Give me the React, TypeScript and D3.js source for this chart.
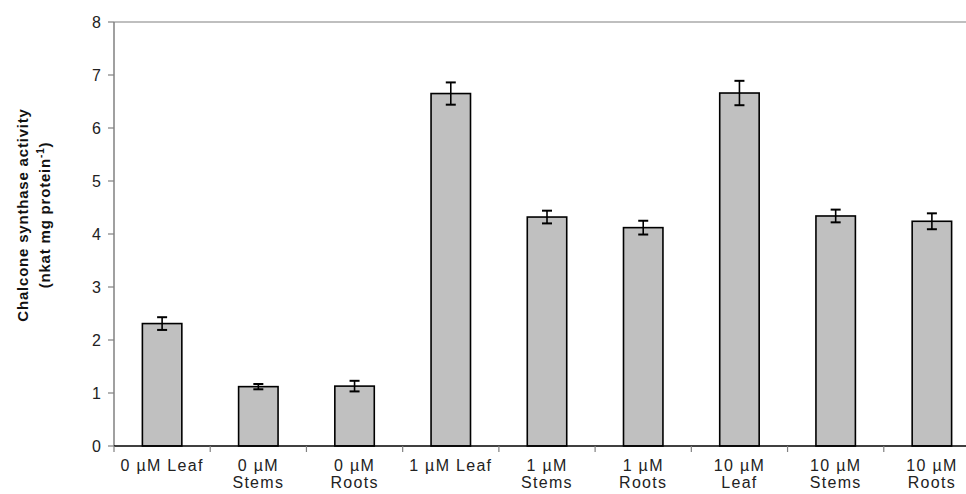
import { useEffect, useRef } from "react";
import * as d3 from "d3";

// groups along the x axis, two-line labels
const categories = [
  "0 µM Leaf", "0 µM Stems", "0 µM Roots",
  "1 µM Leaf", "1 µM Stems", "1 µM Roots",
  "10 µM Leaf", "10 µM Stems", "10 µM Roots",
];
const labelLines = [
  ["0 µM Leaf"], ["0 µM", "Stems"], ["0 µM", "Roots"],
  ["1 µM Leaf"], ["1 µM", "Stems"], ["1 µM", "Roots"],
  ["10 µM", "Leaf"], ["10 µM", "Stems"], ["10 µM", "Roots"],
];
const activity = [2.31, 1.12, 1.13, 6.65, 4.32, 4.12, 6.66, 4.34, 4.24];
const errors = [0.12, 0.05, 0.1, 0.21, 0.12, 0.13, 0.23, 0.12, 0.15];
const yTicks = [0, 1, 2, 3, 4, 5, 6, 7, 8];

export default function App() {
  const svgRef = useRef<SVGSVGElement>(null);

  useEffect(() => {
    const width = 966;
    const height = 494;
    const margin = { top: 22, right: -14, bottom: 48, left: 114 };

    const svg = d3.select(svgRef.current);
    svg.selectAll("*").remove();

    const x = d3
      .scaleBand()
      .domain(categories)
      .range([margin.left, width - margin.right])
      .paddingInner(0)
      .paddingOuter(0);

    const y = d3
      .scaleLinear()
      .domain([0, 8])
      .range([height - margin.bottom, margin.top]);

    const barW = x.bandwidth() * 0.41;
    const font = "Liberation Sans, Arial, sans-serif";

    // top frame line
    svg.append("line")
      .attr("x1", margin.left).attr("x2", width)
      .attr("y1", y(8)).attr("y2", y(8))
      .attr("stroke", "#808080").attr("stroke-width", 1.2);

    // y axis line + ticks
    svg.append("line")
      .attr("x1", margin.left).attr("x2", margin.left)
      .attr("y1", y(8)).attr("y2", y(0))
      .attr("stroke", "#808080").attr("stroke-width", 1.5);

    svg.selectAll(".ytick")
      .data(yTicks)
      .join("line")
      .attr("x1", margin.left - 6).attr("x2", margin.left)
      .attr("y1", (d) => y(d)).attr("y2", (d) => y(d))
      .attr("stroke", "#808080").attr("stroke-width", 1.2);

    svg.selectAll(".ylab")
      .data(yTicks)
      .join("text")
      .attr("x", margin.left - 13)
      .attr("y", (d) => y(d))
      .attr("dy", "0.36em")
      .attr("text-anchor", "end")
      .attr("font-family", font)
      .attr("font-size", 16)
      .attr("fill", "#222")
      .text((d) => d);

    // bars
    svg.selectAll(".bar")
      .data(activity)
      .join("rect")
      .attr("x", (_, i) => x(categories[i])! + x.bandwidth() / 2 - barW / 2)
      .attr("y", (d) => y(d))
      .attr("width", barW)
      .attr("height", (d) => y(0) - y(d))
      .attr("fill", "#c0c0c0")
      .attr("stroke", "#000")
      .attr("stroke-width", 1.6);

    // x axis line + category separator ticks
    svg.append("line")
      .attr("x1", margin.left).attr("x2", width)
      .attr("y1", y(0)).attr("y2", y(0))
      .attr("stroke", "#000").attr("stroke-width", 1.5);

    const bounds = d3.range(categories.length + 1).map((i) => margin.left + i * x.step());
    svg.selectAll(".xtick")
      .data(bounds)
      .join("line")
      .attr("x1", (d) => d).attr("x2", (d) => d)
      .attr("y1", y(0)).attr("y2", y(0) + 6)
      .attr("stroke", "#808080").attr("stroke-width", 1.2);

    // error bars
    const eb = svg.append("g").attr("stroke", "#000").attr("stroke-width", 1.6);
    activity.forEach((v, i) => {
      const cx = x(categories[i])! + x.bandwidth() / 2;
      const e = errors[i];
      eb.append("line").attr("x1", cx).attr("x2", cx).attr("y1", y(v + e)).attr("y2", y(v - e));
      eb.append("line").attr("x1", cx - 5).attr("x2", cx + 5).attr("y1", y(v + e)).attr("y2", y(v + e)).attr("stroke-width", 2);
      eb.append("line").attr("x1", cx - 5).attr("x2", cx + 5).attr("y1", y(v - e)).attr("y2", y(v - e)).attr("stroke-width", 2);
    });

    // x labels
    const xl = svg.append("g")
      .attr("font-family", font)
      .attr("font-size", 16)
      .attr("letter-spacing", 1.3)
      .attr("fill", "#222")
      .attr("text-anchor", "middle");
    labelLines.forEach((lines, i) => {
      const cx = x(categories[i])! + x.bandwidth() / 2;
      lines.forEach((ln, j) => {
        xl.append("text")
          .attr("x", cx)
          .attr("y", y(0) + 25 + j * 17)
          .text(ln);
      });
    });

    // y title
    const yt = svg.append("g")
      .attr("transform", `translate(28, 215) rotate(-90)`)
      .attr("font-family", font)
      .attr("font-size", 15)
      .attr("font-weight", "bold")
      .attr("letter-spacing", 0.8)
      .attr("fill", "#111")
      .attr("text-anchor", "middle");
    yt.append("text").attr("x", 0).attr("y", 0).text("Chalcone synthase activity");
    const t2 = yt.append("text").attr("x", 0).attr("y", 22);
    t2.append("tspan").text("(nkat mg protein");
    t2.append("tspan").attr("font-size", 10).attr("dy", -6).text("-1");
    t2.append("tspan").attr("dy", 6).text(")");
  }, []);

  return <svg ref={svgRef} width={966} height={494} style={{ display: "block", position: "absolute", left: 0, top: 0 }} />;
}
